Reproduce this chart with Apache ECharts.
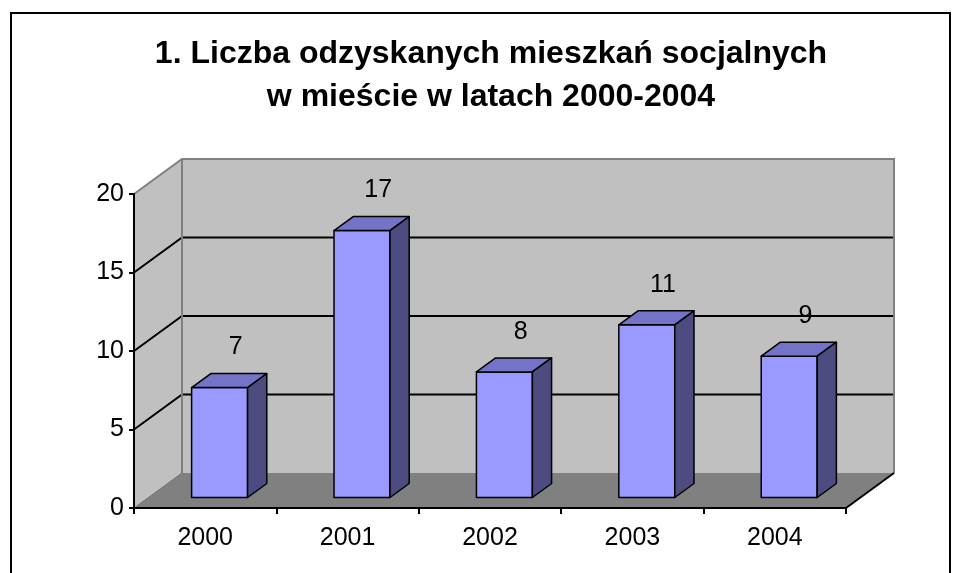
<!DOCTYPE html>
<html>
<head>
<meta charset="utf-8">
<script src="https://cdn.jsdelivr.net/npm/echarts@6/dist/echarts.min.js"></script>
<style>
html,body{margin:0;padding:0;background:#fff;}
#c{width:959px;height:573px;}
</style>
</head>
<body>
<div id="c"></div>
<script>
const titleLines = ['1. Liczba odzyskanych mieszkań socjalnych', 'w mieście w latach 2000-2004'];
const categories = ['2000', '2001', '2002', '2003', '2004'];
const values = [7, 17, 8, 11, 9];
const yTicks = [0, 5, 10, 15, 20];

const FONT = '"Liberation Sans", Arial, sans-serif';
const DX = 48, DY = -35;          // depth projection of the 3D box
const F1 = 0.3, F2 = 0.7;         // bar depth range
const BAR_W = 0.393;              // bar width as share of the band

const chart = echarts.init(document.getElementById('c'), null, {renderer: 'canvas'});

function wallsItem(params, api) {
  const cs = params.coordSys;
  const x0 = cs.x, x1 = cs.x + cs.width;
  const yBot = api.coord([0, yTicks[0]])[1];
  const yTop = api.coord([0, yTicks[yTicks.length - 1]])[1];
  const children = [];
  children.push({type: 'polygon', shape: {points: [[x0, yBot], [x0 + DX, yBot + DY], [x0 + DX, yTop + DY], [x0, yTop]]},
    style: {fill: '#c0c0c0'}});
  children.push({type: 'rect', shape: {x: x0 + DX, y: yTop + DY, width: x1 - x0, height: yBot - yTop},
    style: {fill: '#c0c0c0'}});
  children.push({type: 'polygon', shape: {points: [[x0, yBot], [x0 + DX, yBot + DY], [x1 + DX, yBot + DY], [x1, yBot]]},
    style: {fill: '#808080'}});
  yTicks.forEach(function (v, i) {
    if (i === 0 || i === yTicks.length - 1) return;
    const y = api.coord([0, v])[1];
    children.push({type: 'polyline', shape: {points: [[x0, y], [x0 + DX, y + DY], [x1 + DX, y + DY]]},
      style: {stroke: '#000', lineWidth: 2, fill: null}});
  });
  children.push({type: 'polyline', shape: {points: [[x0, yTop], [x0 + DX, yTop + DY], [x1 + DX, yTop + DY], [x1 + DX, yBot + DY]]},
    style: {stroke: '#808080', lineWidth: 2, fill: null}});
  children.push({type: 'line', shape: {x1: x0 + DX, y1: yTop + DY, x2: x0 + DX, y2: yBot + DY},
    style: {stroke: '#808080', lineWidth: 2}});
  children.push({type: 'line', shape: {x1: x0, y1: yBot, x2: x0 + DX, y2: yBot + DY},
    style: {stroke: '#707070', lineWidth: 1}});
  children.push({type: 'line', shape: {x1: x1, y1: yBot, x2: x1 + DX, y2: yBot + DY},
    style: {stroke: '#000', lineWidth: 2}});
  return {type: 'group', children: children};
}

function barItem(params, api) {
  const idx = api.value(0), val = api.value(1);
  const base = api.coord([idx, 0]);
  const top = api.coord([idx, val]);
  const bw = api.size([1, 0])[0];
  const w = bw * BAR_W;
  const x = base[0] - w / 2 + F1 * DX;
  const yb = base[1] + F1 * DY;
  const yt = top[1] + F1 * DY;
  const ddx = (F2 - F1) * DX, ddy = (F2 - F1) * DY;
  const line = {stroke: '#000', lineWidth: 1.5, lineJoin: 'round'};
  return {type: 'group', children: [
    {type: 'rect', shape: {x: x, y: yt, width: w, height: yb - yt}, style: Object.assign({fill: '#9999ff'}, line)},
    {type: 'polygon', shape: {points: [[x, yt], [x + ddx, yt + ddy], [x + w + ddx, yt + ddy], [x + w, yt]]}, style: Object.assign({fill: '#7373c8'}, line)},
    {type: 'polygon', shape: {points: [[x + w, yt], [x + w + ddx, yt + ddy], [x + w + ddx, yb + ddy], [x + w, yb]]}, style: Object.assign({fill: '#4c4c80'}, line)},
    {type: 'text', style: {text: String(val), x: x + w / 2 + ddx - 3, y: yt + ddy - 26, align: 'center', verticalAlign: 'middle',
      font: '25px ' + FONT, fill: '#000'}}
  ]};
}

const option = {
  animation: false,
  backgroundColor: '#fff',
  graphic: [
    {type: 'rect', shape: {x: 11, y: 13, width: 939, height: 620}, style: {fill: null, stroke: '#000', lineWidth: 2}, z: 100},
    {type: 'text', x: 491, y: 54, style: {text: titleLines[0], align: 'center', verticalAlign: 'middle', font: 'bold 32px ' + FONT, fill: '#000'}},
    {type: 'text', x: 491, y: 97, style: {text: titleLines[1], align: 'center', verticalAlign: 'middle', font: 'bold 32px ' + FONT, fill: '#000'}}
  ],
  grid: {left: 134, right: 113, top: 194, bottom: 65, containLabel: false},
  xAxis: {
    type: 'category', data: categories,
    axisLine: {show: true, lineStyle: {color: '#000', width: 2}},
    axisTick: {show: true, length: 6, lineStyle: {color: '#000', width: 2}},
    axisLabel: {color: '#000', fontFamily: FONT, fontSize: 25, margin: 18},
    splitLine: {show: false}, z: 10
  },
  yAxis: {
    type: 'value', min: 0, max: 20, interval: 5,
    axisLine: {show: true, lineStyle: {color: '#000', width: 2}},
    axisTick: {show: true, length: 5, lineStyle: {color: '#000', width: 2}},
    axisLabel: {color: '#000', fontFamily: FONT, fontSize: 25, margin: 10, padding: [3, 0, 0, 0]},
    splitLine: {show: false}, z: 10
  },
  series: [
    {type: 'custom', renderItem: wallsItem, data: [[0, 0]], z: 1, silent: true},
    {type: 'custom', renderItem: barItem, data: values.map(function (v, i) { return [i, v]; }), z: 3, silent: true}
  ]
};
chart.setOption(option);
</script>
</body>
</html>
